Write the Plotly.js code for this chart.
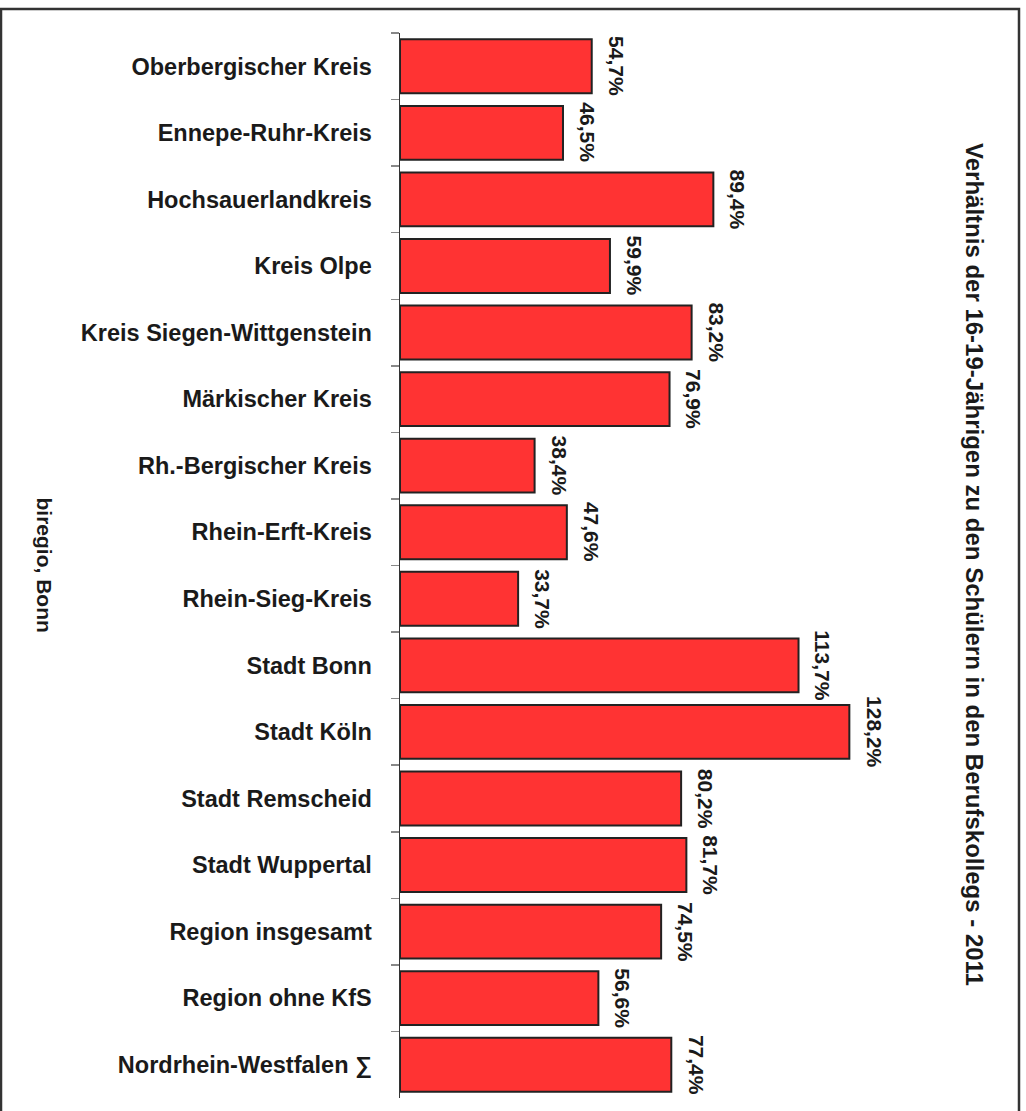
<!DOCTYPE html>
<html>
<head>
<meta charset="utf-8">
<script src="https://cdn.plot.ly/plotly-3.0.1.min.js"></script>
<style>
  html, body { margin: 0; padding: 0; background: #ffffff; }
  #chart { width: 1026px; height: 1111px; }
</style>
</head>
<body>
<div id="chart"></div>
<script>
const categories = [
  "Oberbergischer Kreis",
  "Ennepe-Ruhr-Kreis",
  "Hochsauerlandkreis",
  "Kreis Olpe",
  "Kreis Siegen-Wittgenstein",
  "Märkischer Kreis",
  "Rh.-Bergischer Kreis",
  "Rhein-Erft-Kreis",
  "Rhein-Sieg-Kreis",
  "Stadt Bonn",
  "Stadt Köln",
  "Stadt Remscheid",
  "Stadt Wuppertal",
  "Region insgesamt",
  "Region ohne KfS",
  "Nordrhein-Westfalen ∑"
];
const values = [54.7, 46.5, 89.4, 59.9, 83.2, 76.9, 38.4, 47.6, 33.7, 113.7, 128.2, 80.2, 81.7, 74.5, 56.6, 77.4];
const valueLabels = ["54,7%", "46,5%", "89,4%", "59,9%", "83,2%", "76,9%", "38,4%", "47,6%", "33,7%", "113,7%", "128,2%", "80,2%", "81,7%", "74,5%", "56,6%", "77,4%"];
const titleText = "Verhältnis der 16-19-Jährigen zu den Schülern in den Berufskollegs - 2011";
const sourceText = "biregio, Bonn";

const FONT = "Liberation Sans, Arial, Helvetica, sans-serif";
const DARK = "#1a1a1a";

const trace = {
  type: "bar",
  orientation: "h",
  x: values,
  y: categories,
  width: 0.81,
  marker: { color: "#ff3333", line: { color: "#222222", width: 2 } },
  hoverinfo: "skip"
};

const annotations = values.map((v, i) => ({
  x: v, y: categories[i], xref: "x", yref: "y",
  text: "<b>" + valueLabels[i] + "</b>",
  showarrow: false, textangle: 90,
  xanchor: "left", yanchor: "middle", xshift: 11,
  font: { family: FONT, size: 21, color: DARK }
}));

annotations.push({
  xref: "paper", yref: "paper", x: 1.15, y: 0.5014,
  text: "<b>" + titleText + "</b>", showarrow: false, textangle: 90,
  xanchor: "center", yanchor: "middle",
  font: { family: FONT, size: 24, color: DARK }
});
annotations.push({
  xref: "paper", yref: "paper", x: -0.711, y: 0.5005,
  text: "<b>" + sourceText + "</b>", showarrow: false, textangle: 90,
  xanchor: "center", yanchor: "middle",
  font: { family: FONT, size: 21, color: DARK }
});

const layout = {
  width: 1026, height: 1111,
  margin: { l: 400, r: 126, t: 33, b: 13, pad: 0 },
  paper_bgcolor: "#ffffff", plot_bgcolor: "#ffffff",
  showlegend: false,
  bargap: 0.19,
  xaxis: { visible: false, range: [0, 142.65], fixedrange: true },
  yaxis: {
    type: "category",
    range: [15.5, -0.5],
    showline: true, linecolor: "#333333", linewidth: 1.5,
    ticks: "outside", ticklen: 8, tickcolor: "#888888", tickwidth: 1.5,
    tickson: "boundaries",
    ticklabelstandoff: 22,
    showgrid: false, zeroline: false,
    tickfont: { family: FONT, size: 23.5, color: DARK, weight: "bold" },
    fixedrange: true
  },
  annotations: annotations,
  shapes: [{
    type: "rect", xref: "paper", yref: "paper",
    x0: -0.798, x1: 1.238, y0: -0.04, y1: 1.0225,
    line: { color: "#333333", width: 2.5 }, fillcolor: "rgba(0,0,0,0)", layer: "above"
  }]
};

Plotly.newPlot("chart", [trace], layout, { displayModeBar: false, staticPlot: true });
</script>
</body>
</html>
